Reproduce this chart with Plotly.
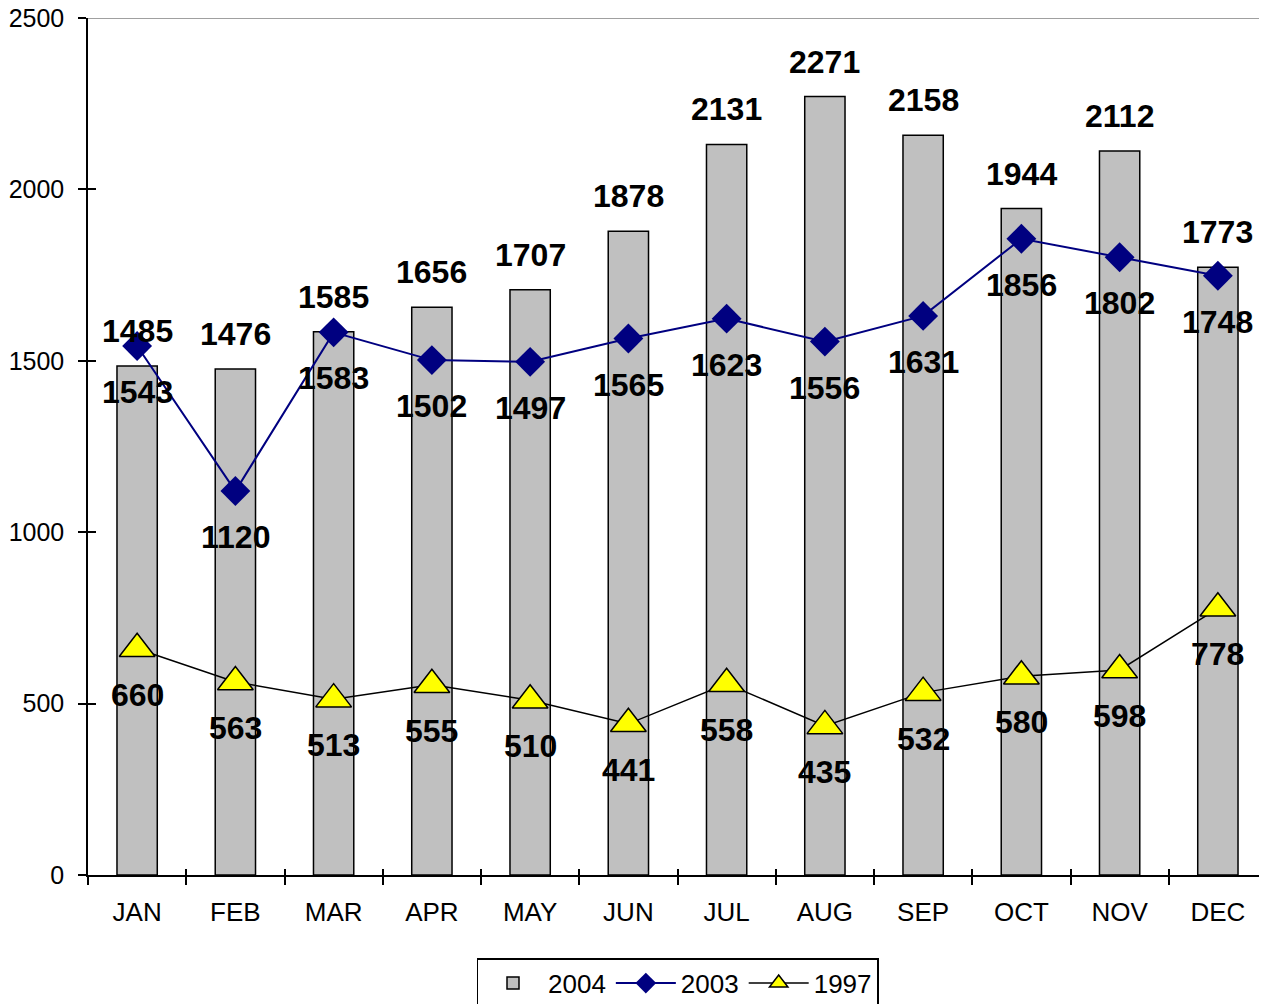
import plotly.graph_objects as go

months = ["JAN", "FEB", "MAR", "APR", "MAY", "JUN", "JUL", "AUG", "SEP", "OCT", "NOV", "DEC"]
v2004 = [1485, 1476, 1585, 1656, 1707, 1878, 2131, 2271, 2158, 1944, 2112, 1773]
v2003 = [1543, 1120, 1583, 1502, 1497, 1565, 1623, 1556, 1631, 1856, 1802, 1748]
v1997 = [660, 563, 513, 555, 510, 441, 558, 435, 532, 580, 598, 778]
y_ticks = [0, 500, 1000, 1500, 2000, 2500]

FONT = "Arial, 'Liberation Sans', sans-serif"

fig = go.Figure()
fig.add_trace(go.Bar(
    x=months, y=v2004, name="2004", width=0.41,
    marker=dict(color="#C0C0C0", line=dict(color="black", width=1.5)),
))
fig.add_trace(go.Scatter(
    x=months, y=v2003, name="2003", mode="lines+markers",
    line=dict(color="#000080", width=2),
    marker=dict(symbol="diamond", size=23, color="#000080", line=dict(width=0)),
))
fig.add_trace(go.Scatter(
    x=months, y=v1997, name="1997", mode="lines+markers",
    line=dict(color="black", width=1.5),
    marker=dict(symbol="triangle-up", size=31, color="#FFFF00", line=dict(color="black", width=1.5)),
))
# helper trace for the inside half of the crossing tick marks
fig.add_trace(go.Scatter(
    x=months, y=[None] * len(months), xaxis="x2", yaxis="y2",
    showlegend=False, hoverinfo="skip", mode="lines",
))

annots = []
lab_font = dict(family=FONT, size=32, color="black", weight="bold")
for m, v in zip(months, v2004):
    annots.append(dict(x=m, y=v, xref="x", yref="y", text=str(v), showarrow=False,
                       yshift=35, font=lab_font))
for m, v in zip(months, v2003):
    annots.append(dict(x=m, y=v, xref="x", yref="y", text=str(v), showarrow=False,
                       yshift=-46, font=lab_font))
for m, v in zip(months, v1997):
    annots.append(dict(x=m, y=v, xref="x", yref="y", text=str(v), showarrow=False,
                       yshift=-46, font=lab_font))

fig.update_layout(
    width=1259, height=996,
    margin=dict(l=80, r=0, t=10, b=129, autoexpand=False),
    plot_bgcolor="white", paper_bgcolor="white",
    font=dict(family=FONT, size=26, color="black"),
    annotations=annots,
    showlegend=True,
    legend=dict(orientation="h", x=0.5, xanchor="center", y=-0.097, yanchor="top",
                bordercolor="black", borderwidth=1.5, bgcolor="white",
                font=dict(family=FONT, size=26), itemwidth=60,
                tracegroupgap=0),
    shapes=[dict(type="line", xref="paper", yref="y", x0=0, x1=1, y0=2500, y1=2500,
                 line=dict(color="#808080", width=1.5))],
    xaxis=dict(
        type="category", range=[-0.5, 11.5],
        showline=True, linecolor="black", linewidth=1.5,
        ticks="outside", tickson="boundaries", ticklen=8, tickwidth=1.5, tickcolor="black",
        showgrid=False, zeroline=False,
        tickfont=dict(family=FONT, size=26), ticklabelstandoff=13,
    ),
    yaxis=dict(
        range=[0, 2500], tickvals=y_ticks,
        showline=True, linecolor="black", linewidth=1.5,
        ticks="outside", ticklen=8, tickwidth=1.5, tickcolor="black",
        showgrid=False, zeroline=False, ticklabeloverflow="allow",
        tickfont=dict(family=FONT, size=25), ticklabelstandoff=9,
    ),
    xaxis2=dict(type="category", categoryarray=months, categoryorder="array",
                range=[-0.5, 11.5], overlaying="x", anchor="y2", side="bottom",
                ticks="inside", tickson="boundaries", ticklen=6, tickwidth=1.5,
                tickcolor="black", showticklabels=False, showgrid=False,
                zeroline=False, showline=False),
    yaxis2=dict(range=[0, 2500], tickvals=y_ticks, overlaying="y", anchor="x2",
                side="left", ticks="inside", ticklen=8, tickwidth=1.5,
                tickcolor="black", showticklabels=False, showgrid=False,
                zeroline=False, showline=False),
)

fig.write_html("out.html")
